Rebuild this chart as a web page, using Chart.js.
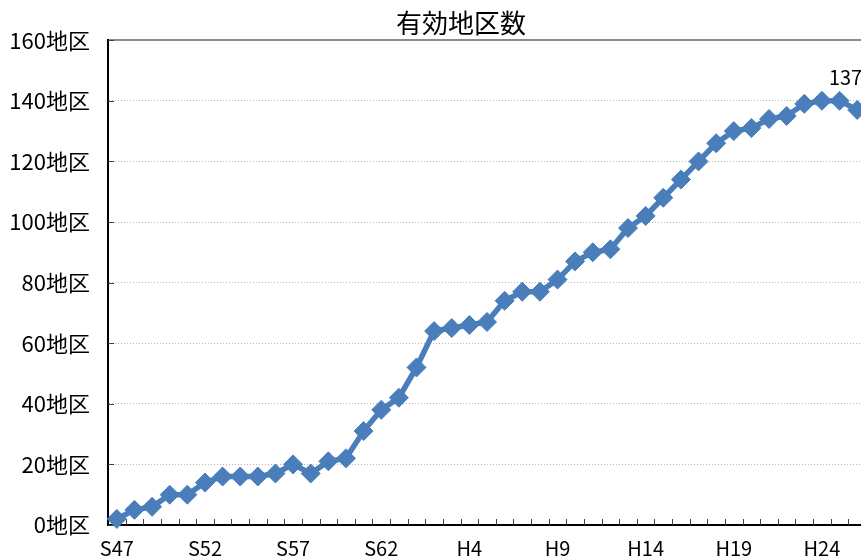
<!DOCTYPE html>
<html lang="ja">
<head>
<meta charset="utf-8">
<title>有効地区数</title>
<script src="https://cdn.jsdelivr.net/npm/chart.js@4"></script>
<style>
  html, body { margin: 0; padding: 0; overflow: hidden; background: #fff; }
  #wrap { width: 922px; height: 560px; }
</style>
</head>
<body>
<div id="wrap"><canvas id="myChart"></canvas></div>
<script>
// 年度 (昭和47年〜平成26年)
const xLabels = [
  "S47", "S48", "S49", "S50", "S51", "S52", "S53", "S54", "S55", "S56",
  "S57", "S58", "S59", "S60", "S61", "S62", "S63",
  "H1", "H2", "H3", "H4", "H5", "H6", "H7", "H8", "H9", "H10",
  "H11", "H12", "H13", "H14", "H15", "H16", "H17", "H18", "H19", "H20",
  "H21", "H22", "H23", "H24", "H25", "H26"
];
// 有効地区数
const yValues = [
  2, 5, 6, 10, 10, 14, 16, 16, 16, 17,
  20, 17, 21, 22, 31, 38, 42,
  52, 64, 65, 66, 67, 74, 77, 77, 81, 87,
  90, 91, 98, 102, 108, 114, 120, 126, 130, 131,
  134, 135, 139, 140, 140, 137
];
const yTicks = [0, 20, 40, 60, 80, 100, 120, 140, 160];
const unit = "地区";

const FONT = "'Noto Sans CJK JP', 'Noto Sans', sans-serif";
const lineColor = "#4a7ebb";

// 軸の内側に向いた目盛り線
const innerTicks = {
  id: "innerTicks",
  beforeDatasetsDraw(chart) {
    const { ctx, chartArea, scales: { x, y } } = chart;
    ctx.save();
    ctx.strokeStyle = "#404040";
    ctx.lineWidth = 1;
    ctx.beginPath();
    for (let i = 1; i < xLabels.length; i++) {
      const px = Math.round((x.getPixelForValue(i - 1) + x.getPixelForValue(i)) / 2) + 0.5;
      ctx.moveTo(px, chartArea.bottom);
      ctx.lineTo(px, chartArea.bottom - 6);
    }
    y.ticks.forEach((t, i) => {
      const py = Math.round(y.getPixelForTick(i)) + 0.5;
      ctx.moveTo(chartArea.left, py);
      ctx.lineTo(chartArea.left + 6, py);
    });
    ctx.stroke();
    ctx.restore();
  }
};

// 最終年度の値ラベル
const lastLabel = {
  id: "lastLabel",
  afterDatasetsDraw(chart) {
    const { ctx } = chart;
    const meta = chart.getDatasetMeta(0);
    const i = yValues.length - 1;
    const pt = meta.data[i];
    ctx.save();
    ctx.font = "20px " + FONT;
    ctx.fillStyle = "#000";
    ctx.textAlign = "right";
    ctx.textBaseline = "alphabetic";
    ctx.fillText(String(yValues[i]), pt.x + 5, pt.y - 25);
    ctx.restore();
  }
};

new Chart("myChart", {
  type: "line",
  data: {
    labels: xLabels,
    datasets: [{
      data: yValues,
      borderColor: lineColor,
      backgroundColor: lineColor,
      borderWidth: 5.5,
      tension: 0,
      pointStyle: "rectRot",
      pointRadius: 9.5,
      pointBorderWidth: 1,
      pointBackgroundColor: lineColor,
      pointBorderColor: lineColor,
      clip: false
    }]
  },
  options: {
    responsive: true,
    maintainAspectRatio: false,
    animation: false,
    layout: { padding: 0 },
    plugins: {
      legend: { display: false },
      tooltip: { enabled: false },
      title: {
        display: true,
        text: "有効地区数",
        color: "#000",
        font: { size: 26, family: FONT, weight: "normal" },
        padding: { top: 8, bottom: 1 }
      }
    },
    scales: {
      x: {
        offset: true,
        afterFit: (scale) => { scale.height = 35; },
        grid: { display: false, drawTicks: false },
        border: { display: true, color: "#000", width: 2 },
        ticks: {
          autoSkip: false,
          maxRotation: 0,
          padding: 11,
          color: "#000",
          font: { size: 20, family: FONT },
          callback: (v, i) => (i % 5 === 0 ? xLabels[i] : "")
        }
      },
      y: {
        min: yTicks[0],
        max: yTicks[yTicks.length - 1],
        afterBuildTicks: (scale) => { scale.ticks = yTicks.map(v => ({ value: v })); },
        afterFit: (scale) => { scale.width = 108; },
        grid: {
          drawTicks: false,
          color: (c) => (c.tick && c.tick.value === 160 ? "#8c8c8c" : "#b8b8b8"),
          lineWidth: (c) => (c.tick && c.tick.value === 160 ? 2 : 1)
        },
        border: {
          display: true,
          color: "#000",
          width: 2,
          dash: (c) => (c.tick && c.tick.value === 160 ? [] : [1, 2])
        },
        ticks: {
          padding: 18,
          color: "#000",
          font: { size: 22, family: FONT },
          callback: (v) => v + unit
        }
      },
      // 右側の余白 (目盛りなし)
      yRight: {
        position: "right",
        afterFit: (scale) => { scale.width = 56; },
        grid: { display: false, drawTicks: false },
        border: { display: false },
        ticks: { display: false }
      }
    }
  },
  plugins: [innerTicks, lastLabel]
});
</script>
</body>
</html>
